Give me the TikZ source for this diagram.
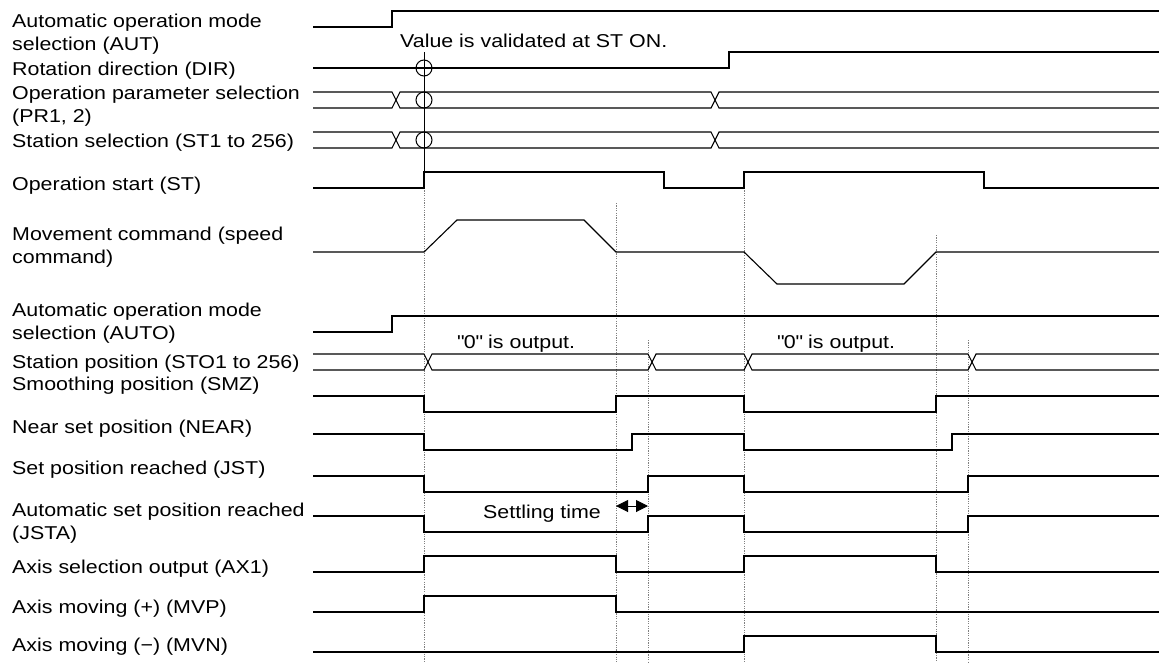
\documentclass[tikz,border=0pt]{standalone}
\usepackage{fontspec}
\setmainfont{Liberation Sans}[FakeStretch=1.15]
\usetikzlibrary{arrows.meta}

\begin{document}
\begin{tikzpicture}[x=1pt,y=-1pt,
  lbl/.style={anchor=base west,align=left,inner sep=0pt,font=\fontsize{18.6}{23}\selectfont},
  sig/.style={line width=1.1pt},
  guide/.style={gray,line width=0.6pt,dash pattern=on 1.2pt off 1.2pt},
  ring/.style={circle,draw,line width=1pt,minimum size=16pt,inner sep=0pt},
  ar/.style={{Triangle[length=12pt,width=12pt]}-{Triangle[length=12pt,width=12pt]},line width=1pt}]
  \useasboundingbox (0,0) rectangle (1159,662);
  % signal names (base = last line)
  \node[lbl](aut) at (12,50){Automatic operation mode\\selection (AUT)};
  \node[lbl](dir) at (12,75){Rotation direction (DIR)};
  \node[lbl](pr) at (12,122){Operation parameter selection\\(PR1, 2)};
  \node[lbl](stsel) at (12,147){Station selection (ST1 to 256)};
  \node[lbl](st) at (12,190){Operation start (ST)};
  \node[lbl](mov) at (12,263){Movement command (speed\\command)};
  \node[lbl](auto) at (12,339){Automatic operation mode\\selection (AUTO)};
  \node[lbl](sto) at (12,368){Station position (STO1 to 256)};
  \node[lbl](smz) at (12,390){Smoothing position (SMZ)};
  \node[lbl](near) at (12,433){Near set position (NEAR)};
  \node[lbl](jst) at (12,474){Set position reached (JST)};
  \node[lbl](jsta) at (12,539){Automatic set position reached\\(JSTA)};
  \node[lbl](ax) at (12,573){Axis selection output (AX1)};
  \node[lbl](mvp) at (12,613){Axis moving (+) (MVP)};
  \node[lbl](mvn) at (12,651){Axis moving (−) (MVN)};
  % guides
  \foreach \x/\t in {424/188,616/203,648/340,744/188,936/235,968/340}
    \draw[guide](\x,\t)--(\x,662);
  % waveforms
  \draw[sig](313,27)-|(392,11)--(1159,11);
  \draw[sig](313,68)-|(729,52)--(1159,52);
  \draw[sig](313,92)--(392,92)--(400,108)--(711,108)--(719,92)--(1159,92);
  \draw[sig](313,108)--(392,108)--(400,92)--(711,92)--(719,108)--(1159,108);
  \draw[sig](313,132)--(392,132)--(400,148)--(711,148)--(719,132)--(1159,132);
  \draw[sig](313,148)--(392,148)--(400,132)--(711,132)--(719,148)--(1159,148);
  \draw[sig](313,188)-|(424,172)-|(664,188)-|(744,172)-|(984,188)--(1159,188);
  \draw[sig](313,252)--(424,252)--(457,220)--(584,220)--(616,252)--(744,252)--(777,284)--(904,284)--(936,252)--(1159,252);
  \draw[sig](313,332)-|(392,316)--(1159,316);
  \draw[sig](313,354)--(424,354)--(432,370)--(648,370)--(656,354)--(744,354)--(752,370)--(968,370)--(976,354)--(1159,354);
  \draw[sig](313,370)--(424,370)--(432,354)--(648,354)--(656,370)--(744,370)--(752,354)--(968,354)--(976,370)--(1159,370);
  \draw[sig](313,396)-|(424,412)-|(616,396)-|(744,412)-|(936,396)--(1159,396);
  \draw[sig](313,434)-|(424,450)-|(632,434)-|(744,450)-|(952,434)--(1159,434);
  \draw[sig](313,476)-|(424,492)-|(648,476)-|(744,492)-|(968,476)--(1159,476);
  \draw[sig](313,516)-|(424,532)-|(648,516)-|(744,532)-|(968,516)--(1159,516);
  \draw[sig](313,572)-|(424,556)-|(616,572)-|(744,556)-|(936,572)--(1159,572);
  \draw[sig](313,612)-|(424,596)-|(616,612)--(1159,612);
  \draw[sig](313,652)-|(744,636)-|(936,652)--(1159,652);
  % ST ON check
  \node[ring](cdir) at (424,68){};
  \node[ring](cpr) at (424,100){};
  \node[ring](csel) at (424,140){};
  \coordinate(vtop) at (424,52);
  \coordinate(vbot) at (424,188);
  \draw[line width=1pt](vtop)--(vbot);
  \node[lbl](valid) at (400,47){Value is validated at ST ON.};
  \node[lbl](zero1) at (457,348){\textquotedbl 0\textquotedbl{} is output.};
  \node[lbl](zero2) at (777,348){\textquotedbl 0\textquotedbl{} is output.};
  \node[lbl](settle) at (483,518){Settling time};
  \coordinate(s1) at (616,506);
  \coordinate(s2) at (648,506);
  \draw[ar](s1)--(s2);
\end{tikzpicture}
\end{document}
